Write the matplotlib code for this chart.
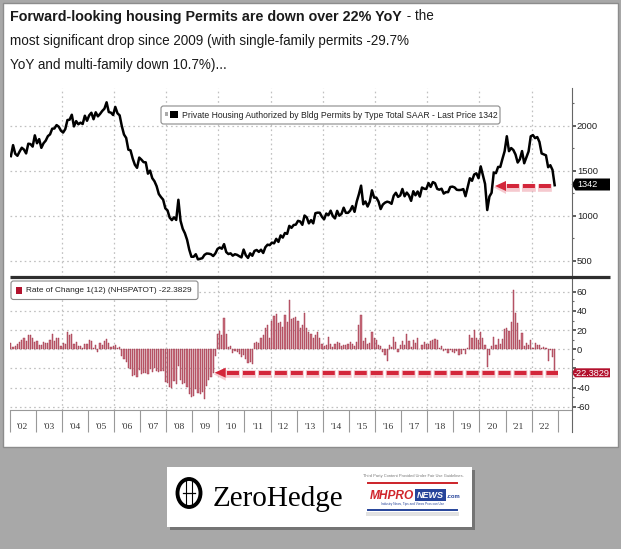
import numpy as np
import matplotlib.pyplot as plt
from matplotlib.patches import Rectangle, FancyBboxPatch, Polygon, Ellipse

plt.rcParams['font.family'] = ['Liberation Sans Narrow', 'Liberation Sans', 'DejaVu Sans']
plt.rcParams['axes.unicode_minus'] = False
plt.rcParams['lines.scale_dashes'] = False

W, H = 621, 549

# Private housing permits, SAAR (thousands), Jan 2002 .. Nov 2022
permits = [
    1665, 1787, 1691, 1669, 1716, 1758, 1738, 1695, 1803, 1799, 1771, 1896,  # 2002
    1808, 1854, 1757, 1808, 1837, 1887, 1907, 1970, 1972, 2010, 1992, 1948,  # 2003
    1927, 1965, 2066, 2070, 2125, 1995, 2054, 2019, 2037, 2022, 2114, 2058,  # 2004
    2118, 2147, 2075, 2152, 2107, 2134, 2167, 2192, 2263, 2155, 2148, 2122,  # 2005
    2212, 2141, 2118, 1998, 1905, 1867, 1737, 1729, 1638, 1569, 1535, 1649,  # 2006
    1626, 1598, 1596, 1470, 1504, 1420, 1386, 1331, 1244, 1210, 1181, 1085,  # 2007
    1062, 982, 954, 985, 956, 1180, 946, 858, 808, 736, 626, 547,  # 2008
    547, 575, 518, 524, 531, 568, 583, 581, 575, 555, 584, 634,  # 2009
    650, 636, 687, 599, 577, 585, 559, 575, 568, 553, 540, 627,  # 2010
    563, 534, 585, 558, 612, 622, 601, 625, 589, 653, 681, 676,  # 2011
    704, 696, 746, 712, 784, 760, 811, 801, 890, 868, 900, 904,  # 2012
    946, 939, 902, 1005, 985, 918, 954, 918, 1031, 1037, 1036, 991,  # 2013
    963, 1027, 1009, 1059, 999, 973, 1057, 1003, 1024, 1092, 1035, 1035,  # 2014
    1060, 1110, 1046, 1160, 1242, 1337, 1130, 1161, 1105, 1160, 1285, 1204,  # 2015
    1204, 1161, 1077, 1127, 1148, 1159, 1152, 1135, 1225, 1258, 1212, 1228,  # 2016
    1300, 1219, 1260, 1228, 1168, 1275, 1230, 1272, 1215, 1316, 1303, 1300,  # 2017
    1366, 1323, 1377, 1364, 1301, 1292, 1303, 1249, 1265, 1265, 1322, 1326,  # 2018
    1317, 1291, 1288, 1290, 1299, 1220, 1317, 1419, 1391, 1461, 1474, 1420,  # 2019
    1551, 1452, 1356, 1066, 1216, 1258, 1483, 1476, 1545, 1545, 1635, 1720,  # 2020
    1886, 1720, 1755, 1733, 1683, 1594, 1630, 1721, 1586, 1653, 1717, 1885,  # 2021
    1899, 1865, 1877, 1823, 1695, 1685, 1674, 1542, 1564, 1512, 1342,  # 2022
]

# Rate of change 1(12), percent
yoy = [
    7, 2, 3, 6, 8, 10, 12, 9, 15, 15, 12, 8,  # 2002
    9, 4, 4, 8, 7, 7, 10, 16, 9, 12, 12, 3,  # 2003
    7, 6, 18, 15, 16, 6, 8, 3, 3, 1, 6, 6,  # 2004
    10, 9, 1, 4, -3, 7, 5, 9, 11, 7, 2, 3,  # 2005
    4, 1, 2, -7, -10, -13, -20, -21, -28, -27, -29, -22,  # 2006
    -26, -25, -25, -26, -21, -24, -20, -23, -24, -23, -23, -34,  # 2007
    -35, -39, -40, -33, -36, -17, -32, -36, -35, -39, -47, -50,  # 2008
    -49, -41, -46, -47, -45, -52, -38, -32, -29, -25, -7, 16,  # 2009
    19, 15, 33, 16, 2, 3, -4, -2, -3, -5, -8, -6,  # 2010
    -10, -14, -13, -15, 7, 8, 7, 12, 15, 22, 25, 12,  # 2011
    30, 35, 37, 27, 28, 23, 36, 29, 52, 32, 33, 34,  # 2012
    30, 22, 25, 38, 22, 18, 16, 12, 15, 18, 12, 6,  # 2013
    3, 4, 13, 6, 2, 6, 8, 7, 3, 5, 4, 6,  # 2014
    8, 6, 3, 8, 25, 36, 9, 12, 6, 7, 18, 12,  # 2015
    10, 4, 3, -3, -6, -12, 4, 2, 13, 8, -3, 4,  # 2016
    9, 5, 16, 9, 2, 10, 7, 12, 0.5, 5, 8, 6,  # 2017
    6, 9, 10, 11, 10, 1, 3, -2, -1, -4, -1, -3,  # 2018
    -4, -2, -6, -5, -1, -5, 1, 15, 12, 20, 12, 10,  # 2019
    18, 12, 5, -18, -6, 3, 13, 5, 11, 6, 11, 21,  # 2020
    22, 19, 29, 62, 38, 27, 10, 17, 3, 7, 5, 10,  # 2021
    1, 7, 5, 4, 1, 2, 1, -12, -1, -8, -22.38,  # 2022
]

year_labels = ["'02", "'03", "'04", "'05", "'06", "'07", "'08", "'09", "'10", "'11", "'12",
               "'13", "'14", "'15", "'16", "'17", "'18", "'19", "'20", "'21", "'22"]

title_bold = 'Forward-looking housing Permits are down over 22% YoY'
title_rest = ' - the'
title_line2 = 'most significant drop since 2009 (with single-family permits -29.7%'
title_line3 = 'YoY and multi-family down 10.7%)...'
legend_top = 'Private Housing Authorized by Bldg Permits by Type Total SAAR - Last Price 1342'
legend_bottom = 'Rate of Change 1(12) (NHSPATOT) -22.3829'

t = 2002 + np.arange(len(permits)) / 12 + 0.05


def rect(x0, y0, x1, y1):
    return [x0 / W, 1 - y1 / H, (x1 - x0) / W, (y1 - y0) / H]


fig = plt.figure(figsize=(6.21, 5.49), dpi=100, facecolor='#a8a8a8')
renderer = fig.canvas.get_renderer()


def fit(txt, width):
    w = txt.get_window_extent(renderer).width
    txt.set_fontsize(txt.get_fontsize() * width / w)
    return txt


# background layer in pixel coordinates
bg = fig.add_axes([0, 0, 1, 1])
bg.set_xlim(0, W)
bg.set_ylim(H, 0)
bg.axis('off')
bg.set_zorder(-1)
bg.add_patch(Rectangle((3, 2.5), 614.5, 444, fc='white', ec='#8c8c8c', lw=1))

# title
t2 = bg.text(10, 44.5, title_line2, fontsize=10, color='#1a1a1a', va='baseline')
fit(t2, 400)
fs = t2.get_fontsize()
t1 = bg.text(10, 20.5, title_bold, fontsize=fs, fontweight='bold', color='#1a1a1a', va='baseline')
fit(t1, 392)
bg.text(403, 20.5, title_rest, fontsize=fs, color='#1a1a1a', va='baseline')
bg.text(10, 69, title_line3, fontsize=fs, color='#1a1a1a', va='baseline')

# logo strip
bg.add_patch(Rectangle((170, 470), 305, 60, fc='#4a4a4a', alpha=0.55, lw=0))
bg.add_patch(Rectangle((167, 467), 305, 60, fc='white', lw=0))
bg.add_patch(Ellipse((189, 493), 23, 28, fill=False, ec='black', lw=2.8))
bg.plot([186, 186], [481, 505], color='black', lw=0.8)
bg.plot([192, 192], [481, 505], color='black', lw=0.8)
bg.plot([183, 195], [493, 493], color='black', lw=0.9)
zh = bg.text(213, 505.5, 'ZeroHedge', family='Liberation Serif', fontsize=20, color='black', va='baseline')
fit(zh, 131)
tp = bg.text(413.5, 475.5, 'Third Party Content Provided Under Fair Use Guidelines.', fontsize=4,
             color='#777777', ha='center', va='center', family='Liberation Sans')
fit(tp, 100)
bg.plot([368, 457], [483, 483], color='#cc2229', lw=1.4)
mh = bg.text(370, 499, 'MHPRO', fontsize=8, color='#d0242b', fontweight='bold', style='italic',
             family='Liberation Sans', va='baseline')
fit(mh, 44)
bg.add_patch(Rectangle((415, 488.5), 31, 12, fc='#26449a', lw=0))
nw = bg.text(430.5, 495, 'NEWS', fontsize=8, color='white', fontweight='bold', style='italic',
             family='Liberation Sans', ha='center', va='center')
fit(nw, 27)
bg.text(447, 498.5, '.com', fontsize=4.2, color='#26449a', fontweight='bold', family='Liberation Sans',
        va='baseline')
tg = bg.text(413, 504.5, 'Industry News, Tips and Views Pros can Use', fontsize=3, color='#26449a',
             ha='center', va='center', family='Liberation Sans')
fit(tg, 62)
bg.plot([368, 457], [510, 510], color='#26449a', lw=1.4)
bg.add_patch(Rectangle((366, 512), 93, 4, fc='#e2e2e2', lw=0))

# upper panel: permits level
ax1 = fig.add_axes(rect(10.4, 88, 571.7, 277))
ax1.patch.set_alpha(0)
ax1.plot(t, permits, color='black', lw=1.8, solid_joinstyle='round', zorder=3)
ax1.set_xlim(2002.031, 2023.536)
ax1.set_ylim(322, 2422)
for v in [500, 1000, 1500, 2000]:
    ax1.axhline(v, color='#c0c0c0', lw=0.9, ls=(0, (1.2, 2.2)), zorder=0)

# lower panel: rate of change
ax2 = fig.add_axes(rect(10.4, 277, 571.7, 410))
ax2.patch.set_alpha(0)
ax2.bar(t, yoy, width=0.045, color='#c9707f', edgecolor='#9a2a40', lw=0.3, zorder=3)
ax2.set_xlim(2002.031, 2023.536)
ax2.set_ylim(-63.4, 75.5)
for v in [60, 40, 20, 0, -20, -40, -60]:
    ax2.axhline(v, color='#c0c0c0', lw=0.9, ls=(0, (1.2, 2.2)), zorder=0)

for ax in (ax1, ax2):
    for yr in range(2004, 2023, 2):
        ax.axvline(yr, color='#c0c0c0', lw=0.9, ls=(0, (1.2, 2.2)), zorder=0)
    for s in ['top', 'left', 'right', 'bottom']:
        ax.spines[s].set_visible(False)
    ax.yaxis.tick_right()

ax1.set_xticks([])
ax1.set_yticks([500, 1000, 1500, 2000])
ax1.set_yticks([750, 1250, 1750, 2250], minor=True)
ax2.set_yticks([60, 40, 20, 0, -20, -40, -60])
ax2.set_yticklabels(['60', '40', '20', '0', '', '-40', '-60'])
ax2.set_yticks([50, 30, 10, -10, -30, -50], minor=True)
for ax in (ax1, ax2):
    ax.tick_params(axis='y', which='major', length=2.6, width=1.1, color='#333333', pad=1.2,
                   labelsize=6.8, labelcolor='#222222')
    ax.tick_params(axis='y', which='minor', length=1.6, width=0.8, color='#666666')

ax2.spines['bottom'].set_visible(True)
ax2.spines['bottom'].set_color('#999999')
ax2.spines['bottom'].set_linewidth(0.8)
ax2.set_xticks([2002.031] + list(range(2003, 2024)))
ax2.set_xticks([y + 0.5 for y in range(2002, 2023)], minor=True)
ax2.set_xticklabels(year_labels, minor=True)
ax2.tick_params(axis='x', which='major', direction='out', length=15.8, width=0.8, color='#999999',
                labelbottom=False)
ax2.tick_params(axis='x', which='minor', length=0, pad=9.2, labelsize=6.8, labelcolor='#333333')
for lbl in ax2.get_xticklabels(minor=True):
    lbl.set_family('Liberation Serif')

# overlay in pixel coordinates
ov = fig.add_axes([0, 0, 1, 1])
ov.set_xlim(0, W)
ov.set_ylim(H, 0)
ov.axis('off')
ov.set_zorder(5)
ov.patch.set_alpha(0)

ov.plot([571.7, 571.7], [88, 432], color='#666666', lw=0.8)
ov.plot([10, 610], [277.3, 277.3], color='#2e2e2e', lw=2.3, solid_capstyle='butt')

# last value tags
ov.add_patch(Polygon([(571.7, 184.5), (575.5, 178.5), (610, 178.5), (610, 190.5), (575.5, 190.5)],
                     closed=True, fc='black', ec='none'))
ov.text(577, 184.7, '1342', color='white', fontsize=6.6, va='center', ha='left')
ov.add_patch(Polygon([(571.7, 372.8), (575, 368.3), (610, 368.3), (610, 377.3), (575, 377.3)],
                     closed=True, fc='#b2102c', ec='none'))
ov.text(574, 373, '-22.3829', color='white', fontsize=6.6, va='center', ha='left')


def dashed_arrow(x_tip, x_end, y):
    ov.plot([x_tip + 11, x_end], [y + 1.5, y + 1.5], color='#f2b3bb', lw=5.5, alpha=0.7,
            dashes=(10, 1.5), dash_capstyle='butt')
    ov.add_patch(Polygon([(x_tip - 1, y + 1.5), (x_tip + 11, y - 5), (x_tip + 11, y + 8)],
                         fc='#f2b3bb', alpha=0.7, ec='none'))
    ov.plot([x_tip + 12, x_end], [y, y], color='#d3263a', lw=2.9, dashes=(8.6, 2.9),
            dash_capstyle='butt')
    ov.add_patch(Polygon([(x_tip, y), (x_tip + 11, y - 5), (x_tip + 11, y + 5)],
                         fc='#d3263a', ec='none'))


dashed_arrow(495, 553, 186)
dashed_arrow(214.7, 557.7, 372.7)

# legend boxes
ov.add_patch(FancyBboxPatch((161, 106), 339, 18, boxstyle='round,pad=0,rounding_size=2.5',
                            fc='white', ec='#8a8a8a', lw=0.8))
ov.add_patch(Rectangle((165, 112), 3, 3.5, fc='#aaaaaa', lw=0))
ov.add_patch(Rectangle((170, 111), 8, 7, fc='black', lw=0))
lt = ov.text(181.7, 115.2, legend_top, fontsize=7, color='#222222', va='center')
fit(lt, 314)

ov.add_patch(FancyBboxPatch((11, 281), 187, 18.5, boxstyle='round,pad=0,rounding_size=2.5',
                            fc='white', ec='#8a8a8a', lw=0.8))
ov.add_patch(Rectangle((16, 287), 5.5, 6.5, fc='#b3142f', lw=0))
lb = ov.text(26.5, 290.5, legend_bottom, fontsize=7, color='#222222', va='center')
fit(lb, 166)

fig.savefig('out.png', dpi=100, facecolor=fig.get_facecolor())
